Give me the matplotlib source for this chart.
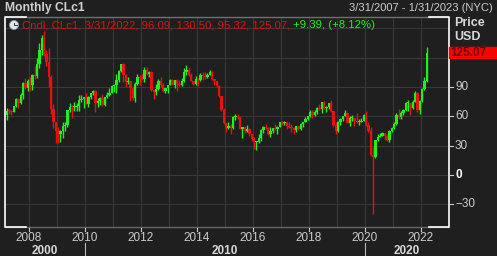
import numpy as np
import pandas as pd
import matplotlib
matplotlib.use("Agg")
import matplotlib.pyplot as plt
from matplotlib.patches import Circle, Rectangle
from matplotlib.transforms import blended_transform_factory

# ── Data: monthly WTI crude (CLc1) candles, Mar 2007 - Mar 2022 ─────
start_month = "2007-03"

opens = [
    61.79, 65.87, 65.71, 64.01, 70.68, 78.21, 74.04, 81.66, 94.53, 88.71,
    96.00, 91.75, 101.84, 101.58, 113.46, 127.35, 140.00, 124.08, 115.46, 100.64, 67.81, 54.43,
    44.60, 41.68, 44.76, 49.66, 51.12, 66.31, 69.89, 69.45, 69.96, 70.61, 77.00, 77.28,
    79.36, 72.89, 79.66, 83.76, 86.15, 73.97, 75.63, 78.95, 71.92, 79.97, 81.43, 84.11,
    91.38, 92.19, 96.97, 106.72, 113.93, 102.70, 95.42, 95.70, 88.81, 79.20, 93.19, 100.36,
    98.83, 98.48, 107.07, 103.02, 104.87, 86.53, 84.96, 88.06, 96.47, 92.19, 86.24, 88.91,
    91.82, 97.49, 92.05, 97.23, 93.46, 91.97, 96.56, 105.03, 107.65, 102.33, 96.38, 92.72,
    98.42, 97.49, 102.59, 101.58, 99.74, 102.71, 105.37, 98.17, 95.96, 91.16, 80.54, 66.15,
    53.27, 48.24, 49.76, 47.60, 59.63, 60.30, 59.47, 47.12, 49.20, 45.09, 46.59, 41.65,
    37.04, 33.62, 33.75, 38.34, 45.92, 49.10, 48.33, 41.60, 44.70, 48.24, 46.86, 49.44,
    53.72, 52.81, 54.01, 50.60, 49.33, 48.32, 46.04, 50.17, 47.23, 51.67, 54.38, 57.40,
    60.42, 64.73, 61.64, 64.94, 68.57, 67.04, 74.15, 68.76, 69.80, 73.25, 65.31, 50.93,
    45.41, 53.79, 57.22, 60.14, 63.91, 53.50, 58.47, 58.58, 55.10, 54.07, 54.18, 55.17,
    61.06, 51.56, 44.76, 20.48, 18.84, 35.49, 39.27, 40.27, 42.61, 40.22, 35.79, 45.34,
    48.52, 52.20, 61.50, 59.16, 63.58, 66.32, 73.47, 73.95, 68.50, 75.03, 83.57, 66.18,
    75.21, 88.15, 96.09,
]
highs = [
    68.09, 67.17, 66.98, 70.88, 78.77, 78.77, 84.10, 94.74, 99.29, 98.00,
    100.09, 103.05, 111.80, 119.93, 135.09, 143.67, 147.27, 127.99, 130.00, 102.00, 72.64, 54.55,
    48.58, 45.58, 54.66, 53.71, 66.62, 73.38, 72.10, 75.00, 73.20, 82.00, 81.48, 80.00,
    83.95, 80.51, 83.85, 87.15, 87.00, 79.19, 79.32, 82.98, 80.11, 84.43, 88.63, 92.06,
    92.58, 103.41, 106.95, 113.93, 114.83, 102.89, 100.62, 95.95, 90.52, 94.65, 103.37, 102.44,
    103.74, 109.95, 110.55, 106.21, 106.43, 86.60, 92.94, 97.85, 100.42, 93.88, 89.43, 91.48,
    98.24, 97.80, 97.67, 97.80, 97.08, 99.45, 108.93, 112.24, 110.66, 104.55, 96.60, 100.75,
    98.81, 103.92, 105.22, 104.99, 104.28, 107.68, 106.02, 98.69, 96.33, 91.64, 81.04, 69.00,
    53.55, 54.24, 52.48, 59.90, 62.58, 61.99, 59.69, 49.39, 49.20, 50.92, 48.36, 42.03,
    38.39, 34.82, 41.90, 46.78, 50.21, 51.67, 49.32, 48.75, 48.35, 51.93, 49.90, 54.51,
    55.24, 54.94, 54.45, 53.76, 52.00, 48.98, 50.43, 50.22, 52.86, 54.56, 58.95, 60.51,
    66.66, 66.40, 66.55, 69.56, 72.90, 74.46, 75.27, 70.34, 73.50, 76.90, 65.38, 54.55,
    55.37, 57.81, 60.73, 66.60, 63.93, 59.93, 60.94, 58.76, 63.38, 57.14, 58.47, 61.88,
    65.65, 54.66, 48.66, 29.13, 35.98, 41.63, 42.52, 43.78, 43.43, 41.90, 46.26, 49.43,
    53.93, 63.81, 67.98, 65.47, 67.01, 74.45, 76.98, 74.00, 76.67, 85.41, 84.97, 76.74,
    88.84, 100.54, 130.50,
]
lows = [
    56.22, 61.89, 61.60, 64.01, 69.10, 69.02, 72.70, 77.58, 87.95, 85.91,
    86.11, 86.70, 98.65, 98.87, 109.80, 122.30, 121.61, 111.34, 90.51, 62.25, 48.25, 32.40,
    33.20, 33.55, 37.58, 45.20, 49.28, 64.56, 58.32, 65.58, 65.05, 65.95, 75.12, 68.59,
    72.43, 69.50, 77.87, 82.21, 64.24, 70.02, 71.60, 70.76, 70.78, 79.06, 80.35, 84.10,
    85.11, 84.10, 95.45, 105.09, 94.63, 89.69, 93.53, 75.71, 77.11, 74.95, 91.91, 92.52,
    97.02, 95.44, 102.78, 100.68, 85.59, 77.28, 82.16, 86.92, 90.19, 84.83, 83.94, 84.05,
    91.82, 92.01, 89.33, 86.07, 91.21, 91.14, 95.18, 102.22, 101.61, 95.92, 91.77, 92.40,
    91.24, 96.30, 97.37, 98.68, 98.91, 101.85, 97.23, 92.50, 90.43, 79.78, 65.69, 52.44,
    43.58, 47.36, 42.03, 47.05, 56.51, 57.07, 46.68, 37.75, 43.21, 43.57, 39.93, 34.53,
    26.19, 26.05, 32.98, 35.24, 43.03, 46.71, 40.57, 39.19, 42.52, 46.42, 42.20, 49.44,
    50.71, 51.22, 47.09, 48.18, 43.76, 42.05, 44.40, 45.58, 46.48, 49.10, 53.89, 55.82,
    59.82, 58.07, 59.95, 62.00, 66.27, 63.59, 67.03, 64.43, 67.06, 64.85, 49.41, 42.36,
    44.35, 51.33, 55.05, 60.14, 52.86, 50.60, 54.94, 50.52, 52.86, 50.99, 54.15, 55.03,
    50.58, 44.00, 19.27, -40.32, 17.27, 34.36, 38.55, 40.08, 36.13, 34.92, 33.64, 44.10,
    47.18, 51.60, 57.32, 57.25, 61.56, 64.99, 65.01, 61.74, 67.26, 74.96, 64.43, 62.43,
    74.27, 86.55, 95.32,
]
closes = [
    65.87, 65.71, 64.01, 70.68, 78.21, 74.04, 81.66, 94.53, 88.71, 95.98,
    91.75, 101.84, 101.58, 113.46, 127.35, 140.00, 124.08, 115.46, 100.64, 67.81, 54.43, 44.60,
    41.68, 44.76, 49.66, 51.12, 66.31, 69.89, 69.45, 69.96, 70.61, 77.00, 77.28, 79.36,
    72.89, 79.66, 83.76, 86.15, 73.97, 75.63, 78.95, 71.92, 79.97, 81.43, 84.11, 91.38,
    92.19, 96.97, 106.72, 113.93, 102.70, 95.42, 95.70, 88.81, 79.20, 93.19, 100.36, 98.83,
    98.48, 107.07, 103.02, 104.87, 86.53, 84.96, 88.06, 96.47, 92.19, 86.24, 88.91, 91.82,
    97.49, 92.05, 97.23, 93.46, 91.97, 96.56, 105.03, 107.65, 102.33, 96.38, 92.72, 98.42,
    97.49, 102.59, 101.58, 99.74, 102.71, 105.37, 98.17, 95.96, 91.16, 80.54, 66.15, 53.27,
    48.24, 49.76, 47.60, 59.63, 60.30, 59.47, 47.12, 49.20, 45.09, 46.59, 41.65, 37.04,
    33.62, 33.75, 38.34, 45.92, 49.10, 48.33, 41.60, 44.70, 48.24, 46.86, 49.44, 53.72,
    52.81, 54.01, 50.60, 49.33, 48.32, 46.04, 50.17, 47.23, 51.67, 54.38, 57.40, 60.42,
    64.73, 61.64, 64.94, 68.57, 67.04, 74.15, 68.76, 69.80, 73.25, 65.31, 50.93, 45.41,
    53.79, 57.22, 60.14, 63.91, 53.50, 58.47, 58.58, 55.10, 54.07, 54.18, 55.17, 61.06,
    51.56, 44.76, 20.48, 18.84, 35.49, 39.27, 40.27, 42.61, 40.22, 35.79, 45.34, 48.52,
    52.20, 61.50, 59.16, 63.58, 66.32, 73.47, 73.95, 68.50, 75.03, 83.57, 66.18, 75.21,
    88.15, 95.72, 125.07,
]

last_price = "125.07"
header_red = "Cndl, CLc1, 3/31/2022, 96.09, 130.50, 95.32, 125.07,"
header_green = " +9.39, (+8.12%)"
y_ticks = [-30, 0, 30, 60, 90]
x_ticks = [2008, 2010, 2012, 2014, 2016, 2018, 2020, 2022]
decades = [2000, 2010, 2020]

# ── Style ───────────────────────────────────────────────────────────
BG = "#1f1f1f"
GRID = "#383838"
TXT = "#cccccc"
UP = "#1ef01e"
DOWN = "#e81010"
plt.rcParams["font.family"] = ["Liberation Sans", "DejaVu Sans"]

W, H = 497, 256
fig = plt.figure(figsize=(W / 100, H / 100), dpi=100, facecolor=BG)
L, R, T, B = 5, 449, 17, 227
ax = fig.add_axes([L / W, 1 - B / H, (R - L) / W, (B - T) / H], facecolor=BG)

dates = pd.date_range(start_month, periods=len(closes), freq="MS")
x = dates.year + (dates.month - 1) / 12 + 1 / 24
o, h, l, c = map(np.array, (opens, highs, lows, closes))
cols = np.where(c >= o, UP, DOWN)

ax.vlines(x, l, h, colors=cols, lw=1.0, zorder=3)
ax.bar(x, np.maximum(np.abs(c - o), 0.8), bottom=np.minimum(o, c), width=0.088,
       color=cols, linewidth=0, zorder=4)

ax.set_xlim(2007.143, 2023.0)
ax.set_ylim(-53.2, 161.6)

for yr in range(2008, 2023):
    ax.axvline(yr, color=GRID, lw=0.8, zorder=1)
for yv in range(-30, 151, 30):
    ax.axhline(yv, color=GRID, lw=0.8, zorder=1)

for s in ax.spines.values():
    s.set_visible(False)
ax.set_xticks([])
ax.set_yticks([])

# frame: grey top/bottom, white brackets on the sides
fig.add_artist(plt.Line2D([L / W, R / W], [1 - T / H] * 2, color="#707070", lw=1))
fig.add_artist(plt.Line2D([L / W, R / W], [1 - B / H] * 2, color="#666666", lw=1))
for xs, ys in [([L + 21, L, L, L + 21], [T, T, B, B]),
               ([R - 20, R, R, R - 20], [T, T, B, B])]:
    fig.add_artist(plt.Line2D([v / W for v in xs], [1 - v / H for v in ys],
                              color="white", lw=1.2))

# x tick labels
trans_x = blended_transform_factory(ax.transData, fig.transFigure)
for yr in x_ticks:
    fig.add_artist(plt.Line2D([yr, yr], [1 - 228 / H, 1 - 231 / H], color=TXT, lw=0.8,
                              transform=trans_x))
    ax.text(yr, 1 - 238 / H, str(yr), transform=trans_x, ha="center", va="center",
            color=TXT, fontsize=8.5)

# decade labels
edges = [2007.143, 2010, 2020, 2023.0]
for i, d in enumerate(decades):
    ax.text((edges[i] + edges[i + 1]) / 2, 1 - 250.5 / H, str(d), transform=trans_x,
            ha="center", va="center", color="#d8d8d8", fontsize=8.5, fontweight="bold")
for d in [2010, 2020]:
    fig.add_artist(plt.Line2D([d, d], [1 - 243 / H, 0], color="#bbbbbb", lw=0.8,
                              transform=trans_x))

# right axis labels
trans_y = blended_transform_factory(fig.transFigure, ax.transData)
for yv in y_ticks:
    fig.add_artist(plt.Line2D([R / W, 453 / W], [yv, yv], color=TXT, lw=0.8,
                              transform=trans_y))
    fig.text(455 / W, yv, str(yv).replace("-", "\u2212"), transform=trans_y,
             ha="left", va="center", color="white" if yv == 0 else TXT,
             fontsize=8.5, fontweight="bold" if yv == 0 else "normal")
fig.text(454 / W, 1 - 23 / H, "Price", ha="left", va="center", color="#d8d8d8",
         fontsize=9, fontweight="bold")
fig.text(454 / W, 1 - 37.5 / H, "USD", ha="left", va="center", color="#d8d8d8",
         fontsize=9, fontweight="bold")
fig.add_artist(Rectangle((449 / W, 1 - 58 / H), 48 / W, 11 / H,
                         transform=fig.transFigure, color="#ff0000", zorder=5))
fig.text(450 / W, 1 - 52.5 / H, last_price, ha="left", va="center", color="#700000",
         fontsize=8.5, fontweight="bold", zorder=6)

# titles
fig.text(5 / W, 1 - 8 / H, "Monthly CLc1", ha="left", va="center", color="#d0d0d0",
         fontsize=8.7, fontweight="bold")
fig.text(493 / W, 1 - 8 / H, "3/31/2007 - 1/31/2023 (NYC)", ha="right", va="center",
         color=TXT, fontsize=8)

# header legend: clock icon + red/green text
fig.add_artist(Circle((14 / 100, (H - 25) / 100), 0.045, transform=fig.dpi_scale_trans,
                      fc="#dfe6ee", ec="#8899aa", lw=0.6))
fig.add_artist(plt.Line2D([14 / 100, 14 / 100, 16.5 / 100],
                          [(H - 22.5) / 100, (H - 25) / 100, (H - 25) / 100],
                          transform=fig.dpi_scale_trans, color="#333333", lw=0.7))
t1 = fig.text(22 / W, 1 - 25 / H, header_red, ha="left", va="center",
              color="#dd1111", fontsize=8.2)
fig.canvas.draw()
bb = t1.get_window_extent()
fig.text(bb.x1 / W, 1 - 25 / H, header_green, ha="left", va="center",
         color="#22ee22", fontsize=8.2)

fig.savefig("out.png", dpi=100, facecolor=BG)
